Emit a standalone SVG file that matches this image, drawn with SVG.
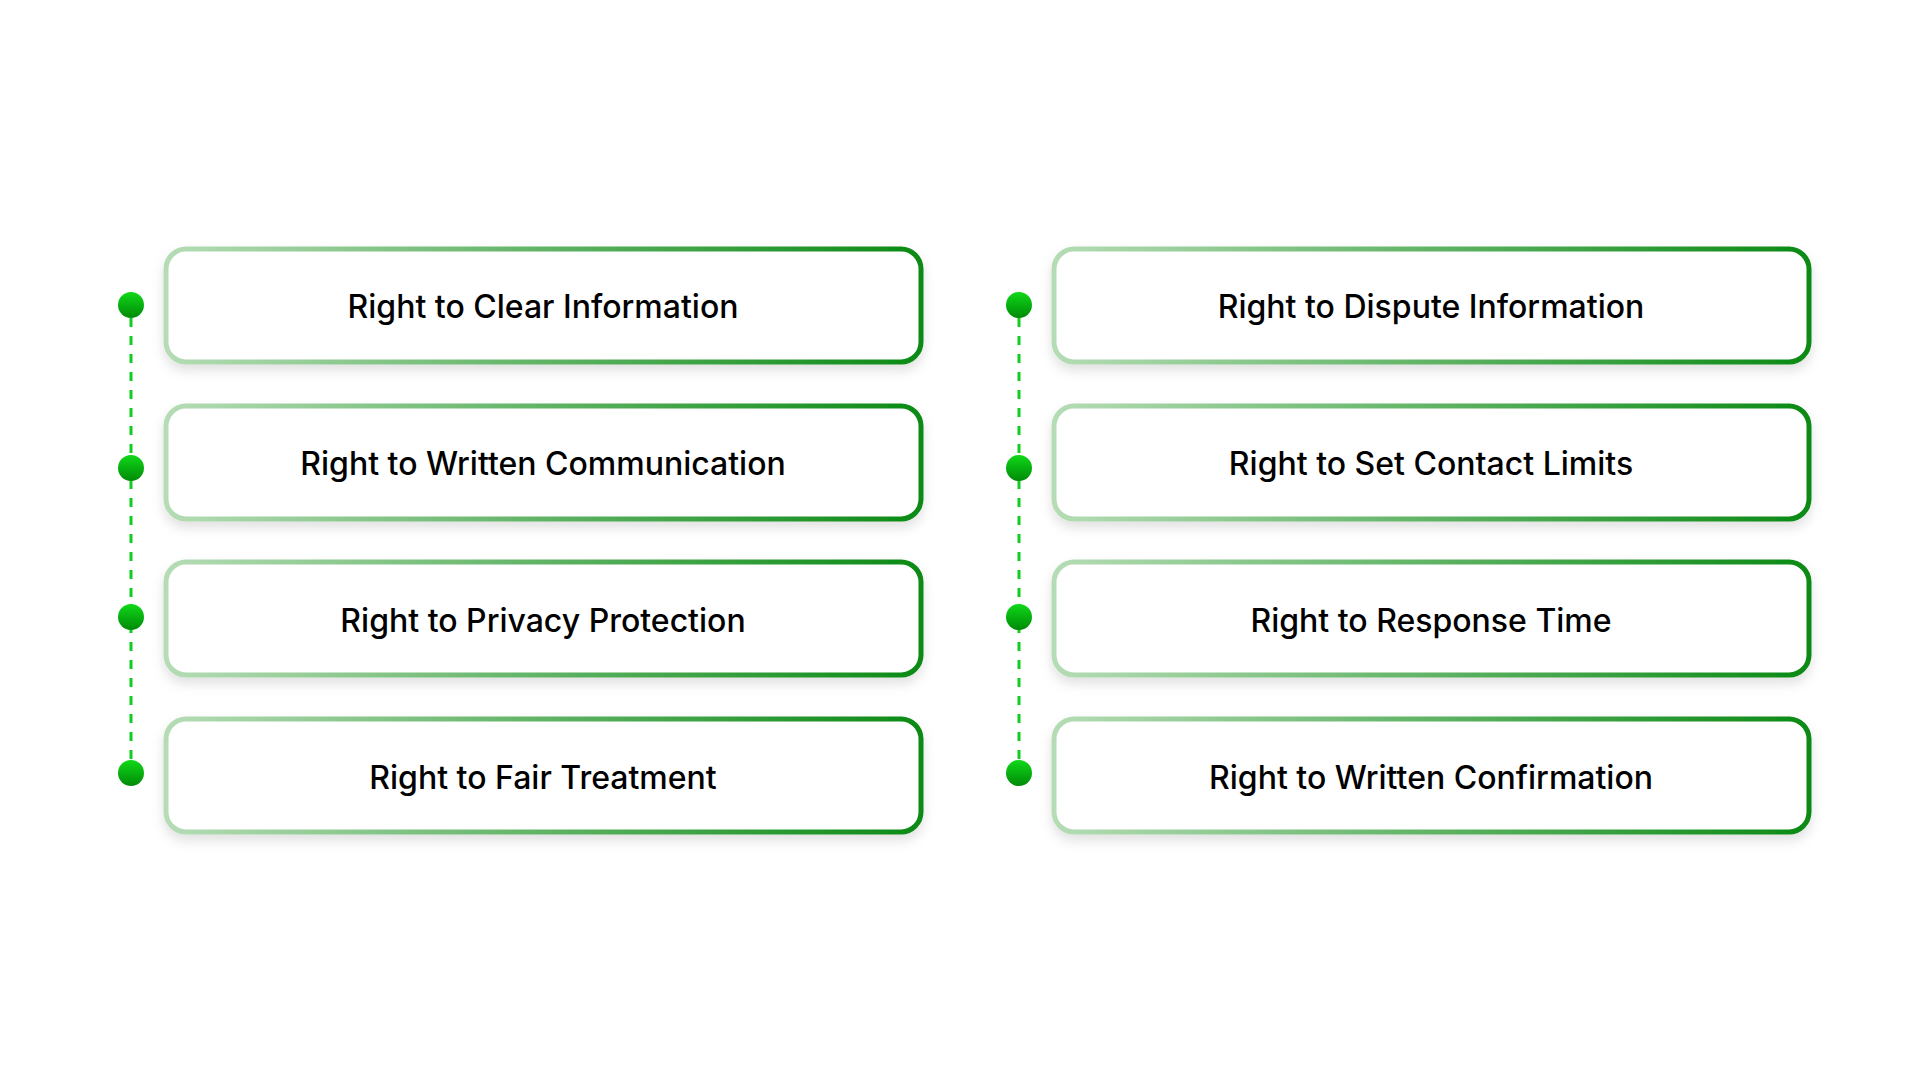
<svg xmlns="http://www.w3.org/2000/svg" width="1920" height="1080" viewBox="0 0 1920 1080">
<defs>
<linearGradient id="bd" x1="0" y1="0" x2="1" y2="0"><stop offset="0" stop-color="#b5dcb5"/><stop offset="1" stop-color="#0a8a14"/></linearGradient>
<linearGradient id="dt" x1="0" y1="0" x2="0" y2="1"><stop offset="0" stop-color="#10d818"/><stop offset="1" stop-color="#008a08"/></linearGradient>
<filter id="sh" x="-5%" y="-20%" width="110%" height="150%"><feDropShadow dx="0" dy="6" stdDeviation="6" flood-color="#000" flood-opacity="0.12"/></filter>
<style>
.b{fill:#fff;stroke:url(#bd);stroke-width:5;filter:url(#sh)}
.t{font-family:Inter,"Liberation Sans",sans-serif;font-size:32px;font-weight:500;fill:#000;text-anchor:middle}
.d{fill:url(#dt)}
.l{stroke:#11cc22;stroke-width:3;stroke-dasharray:9 9;fill:none}
</style>
</defs>
<rect width="1920" height="1080" fill="#fff"/>
<g id="connectors">
<line class="l" x1="131" y1="318" x2="131" y2="773"/>
<line class="l" x1="1019" y1="318" x2="1019" y2="773"/>
</g>
<g id="dots">
<circle class="d" cx="131" cy="305" r="13"/><circle class="d" cx="131" cy="468" r="13"/><circle class="d" cx="131" cy="617" r="13"/><circle class="d" cx="131" cy="773" r="13"/>
<circle class="d" cx="1019" cy="305" r="13"/><circle class="d" cx="1019" cy="468" r="13"/><circle class="d" cx="1019" cy="617" r="13"/><circle class="d" cx="1019" cy="773" r="13"/>
</g>
<g id="n1"><rect class="b" x="166" y="249" width="755" height="113" rx="20"/><text class="t" x="543" y="318">Right to Clear Information</text></g>
<g id="n2"><rect class="b" x="166" y="406" width="755" height="113" rx="20"/><text class="t" x="543" y="475">Right to Written Communication</text></g>
<g id="n3"><rect class="b" x="166" y="562" width="755" height="113" rx="20"/><text class="t" x="543" y="632">Right to Privacy Protection</text></g>
<g id="n4"><rect class="b" x="166" y="719" width="755" height="113" rx="20"/><text class="t" x="543" y="789">Right to Fair Treatment</text></g>
<g id="n5"><rect class="b" x="1054" y="249" width="755" height="113" rx="20"/><text class="t" x="1431" y="318">Right to Dispute Information</text></g>
<g id="n6"><rect class="b" x="1054" y="406" width="755" height="113" rx="20"/><text class="t" x="1431" y="475">Right to Set Contact Limits</text></g>
<g id="n7"><rect class="b" x="1054" y="562" width="755" height="113" rx="20"/><text class="t" x="1431" y="632">Right to Response Time</text></g>
<g id="n8"><rect class="b" x="1054" y="719" width="755" height="113" rx="20"/><text class="t" x="1431" y="789">Right to Written Confirmation</text></g>
</svg>
